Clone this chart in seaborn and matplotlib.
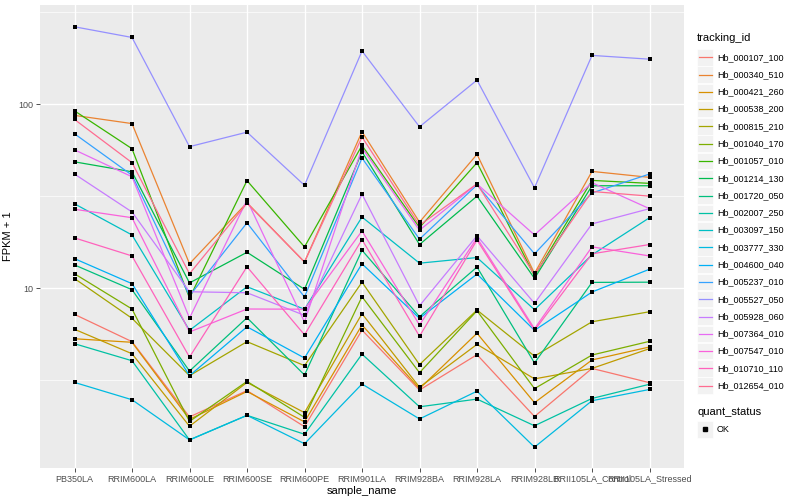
import matplotlib
matplotlib.use("Agg")
import matplotlib.pyplot as plt
import matplotlib.ticker as mticker
from matplotlib.lines import Line2D
from matplotlib.patches import Rectangle
import seaborn as sns
import pandas as pd
import numpy as np

samples = ["PB350LA", "RRIM600LA", "RRIM600LE", "RRIM600SE", "RRIM600PE", "RRIM901LA",
           "RRIM928BA", "RRIM928LA", "RRIM928LB", "RRII105LA_Control", "RRII105LA_Stressed"]

tracking_ids = ["Hb_000107_100", "Hb_000340_510", "Hb_000421_260", "Hb_000538_200", "Hb_000815_210",
                "Hb_001040_170", "Hb_001057_010", "Hb_001214_130", "Hb_001720_050", "Hb_002007_250",
                "Hb_003097_150", "Hb_003777_330", "Hb_004600_040", "Hb_005237_010", "Hb_005527_050",
                "Hb_005928_060", "Hb_007364_010", "Hb_007547_010", "Hb_010710_110", "Hb_012654_010"]

hb_000107_100 = [7.22, 5.13, 2.00, 2.78, 1.77, 5.93, 2.80, 4.36, 2.01, 3.67, 3.07]
hb_000340_510 = [87.1, 78.6, 13.6, 29.2, 13.9, 71.0, 22.9, 53.5, 12.06, 43.2, 40.1]
hb_000421_260 = [5.32, 5.09, 1.94, 2.75, 1.88, 6.32, 2.85, 5.70, 2.39, 4.08, 4.80]
hb_000538_200 = [5.99, 4.41, 1.78, 3.08, 2.11, 7.28, 2.90, 4.96, 3.22, 3.67, 4.70]
hb_000815_210 = [11.3, 6.87, 3.35, 5.13, 3.80, 10.8, 3.85, 7.62, 4.28, 6.58, 7.46]
hb_001040_170 = [12.0, 7.72, 1.89, 3.12, 1.99, 9.0, 3.48, 7.55, 2.85, 4.34, 5.15]
hb_001057_010 = [92.2, 57.4, 8.86, 38.5, 16.8, 59.8, 21.4, 48.2, 11.67, 38.6, 37.2]
hb_001214_130 = [48.7, 43.0, 10.7, 15.7, 9.88, 55.2, 17.3, 31.7, 11.32, 36.1, 36.1]
hb_001720_050 = [13.4, 9.83, 3.55, 6.92, 3.38, 16.1, 7.01, 13.05, 3.93, 10.77, 10.8]
hb_002007_250 = [5.00, 4.04, 1.50, 2.04, 1.61, 4.39, 2.27, 2.50, 1.79, 2.52, 3.01]
hb_003097_150 = [28.8, 19.5, 5.91, 10.2, 7.70, 24.4, 13.7, 14.7, 7.65, 15.2, 24.2]
hb_003777_330 = [3.08, 2.48, 1.50, 2.04, 1.43, 3.02, 1.95, 2.76, 1.37, 2.45, 2.82]
hb_004600_040 = [14.5, 10.6, 3.35, 6.18, 4.18, 13.6, 6.87, 11.96, 5.91, 9.55, 12.7]
hb_005237_010 = [69.2, 41.2, 9.10, 22.7, 8.97, 51.1, 18.5, 36.5, 15.4, 33.0, 41.8]
hb_005527_050 = [264, 231, 58.9, 70.6, 36.3, 195, 75.5, 135.5, 35.2, 184.5, 176]
hb_005928_060 = [41.8, 26.0, 9.58, 9.46, 7.13, 32.5, 8.04, 19.3, 8.29, 22.4, 27.1]
hb_007364_010 = [56.6, 40.4, 6.89, 30.2, 6.56, 58.0, 20.7, 36.9, 19.5, 37.5, 27.1]
hb_007547_010 = [26.9, 24.2, 5.79, 7.72, 7.70, 20.5, 6.32, 18.8, 6.03, 16.8, 15.0]
hb_010710_110 = [18.8, 15.0, 4.23, 13.1, 5.59, 18.4, 5.49, 18.3, 5.91, 15.4, 17.3]
hb_012654_010 = [82.8, 48.2, 12.0, 29.0, 13.9, 66.4, 22.0, 37.0, 11.86, 33.6, 31.7]

series_values = [hb_000107_100, hb_000340_510, hb_000421_260, hb_000538_200, hb_000815_210,
                 hb_001040_170, hb_001057_010, hb_001214_130, hb_001720_050, hb_002007_250,
                 hb_003097_150, hb_003777_330, hb_004600_040, hb_005237_010, hb_005527_050,
                 hb_005928_060, hb_007364_010, hb_007547_010, hb_010710_110, hb_012654_010]

colors = ["#F8766D", "#EA8331", "#D89000", "#C09B00", "#A3A500", "#7CAE00", "#39B600", "#00BB4E",
          "#00BF7D", "#00C1A3", "#00BFC4", "#00BAE0", "#00B0F6", "#35A2FF", "#9590FF", "#C77CFF",
          "#E76BF3", "#FA62DB", "#FF62BC", "#FF6C91"]

y_ticks = [10, 100]
y_tick_labels = ["10", "100"]

rows = []
for tid, vals in zip(tracking_ids, series_values):
    for s, v in zip(samples, vals):
        rows.append({"tracking_id": tid, "sample_name": s, "fpkm": v, "quant_status": "OK"})
df = pd.DataFrame(rows)

plt.rcParams['font.family'] = ['Liberation Sans', 'DejaVu Sans']

W, H = 800, 500
fig = plt.figure(figsize=(8, 5), dpi=100)
fig.patch.set_facecolor("white")
px0, py0, px1, py1 = 40, 5, 684, 468
ax = fig.add_axes([px0 / W, 1 - py1 / H, (px1 - px0) / W, (py1 - py0) / H])
ax.set_facecolor("#EBEBEB")

sns.lineplot(data=df, x="sample_name", y="fpkm", hue="tracking_id", hue_order=tracking_ids,
             palette=colors, sort=False, errorbar=None, legend=False, linewidth=0.9, ax=ax, zorder=3)
sns.scatterplot(data=df, x="sample_name", y="fpkm", color="black", s=9, linewidth=0,
                marker="s", legend=False, ax=ax, zorder=4)

ax.set_yscale("log")
ax.set_xlim(-0.6, len(samples) - 1 + 0.6)
ax.set_ylim(10 ** 0.0234, 10 ** 2.540)
ax.set_yticks(y_ticks)
ax.set_yticklabels(y_tick_labels)
ax.yaxis.set_minor_locator(mticker.FixedLocator([10 ** 0.5, 10 ** 1.5, 10 ** 2.5]))
ax.yaxis.set_minor_formatter(mticker.NullFormatter())
ax.set_xticks(range(len(samples)))
ax.set_xticklabels(samples)

ax.grid(True, which="major", color="white", linewidth=1.0, zorder=0)
ax.grid(True, which="minor", axis="y", color="white", linewidth=0.5, zorder=0)
ax.set_axisbelow(True)
for sp in ax.spines.values():
    sp.set_visible(False)
ax.tick_params(axis="both", which="major", length=2.75, width=0.6, color="#333333",
               labelsize=6.5, labelcolor="#4D4D4D", pad=2)
ax.tick_params(axis="y", which="minor", length=0)

ax.set_xlabel("sample_name", fontsize=8, color="black", labelpad=2)
ax.set_ylabel("FPKM + 1", fontsize=8, color="black", labelpad=4)

# legend (ggplot style, drawn in figure pixel coords)
def fx(x):
    return x / W

def fy(y):
    return 1 - y / H

fig.text(fx(697), fy(38), "tracking_id", fontsize=8, ha="left", va="center", color="black")
row_h = 17.28
y0 = 57.3
for i, (tid, c) in enumerate(zip(tracking_ids, colors)):
    yc = y0 + i * row_h
    fig.add_artist(Rectangle((fx(697), fy(yc + 8.2)), 16 / W, 16.4 / H, transform=fig.transFigure,
                             facecolor="#F2F2F2", edgecolor="white", linewidth=0.5))
    fig.add_artist(Line2D([fx(698.5), fx(711.5)], [fy(yc), fy(yc)], transform=fig.transFigure,
                          color=c, linewidth=0.9))
    fig.text(fx(717), fy(yc), tid, fontsize=6.5, ha="left", va="center", color="black")

fig.text(fx(697), fy(412), "quant_status", fontsize=8, ha="left", va="center", color="black")
yc = 429.3
fig.add_artist(Rectangle((fx(697), fy(yc + 8.2)), 16 / W, 16.4 / H, transform=fig.transFigure,
                         facecolor="#F2F2F2", edgecolor="white", linewidth=0.5))
fig.add_artist(Line2D([fx(705)], [fy(yc)], transform=fig.transFigure, marker="s", markersize=2.8,
                      color="black", linestyle="none"))
fig.text(fx(717), fy(yc), "OK", fontsize=6.5, ha="left", va="center", color="black")

fig.savefig("out.png", dpi=100)
